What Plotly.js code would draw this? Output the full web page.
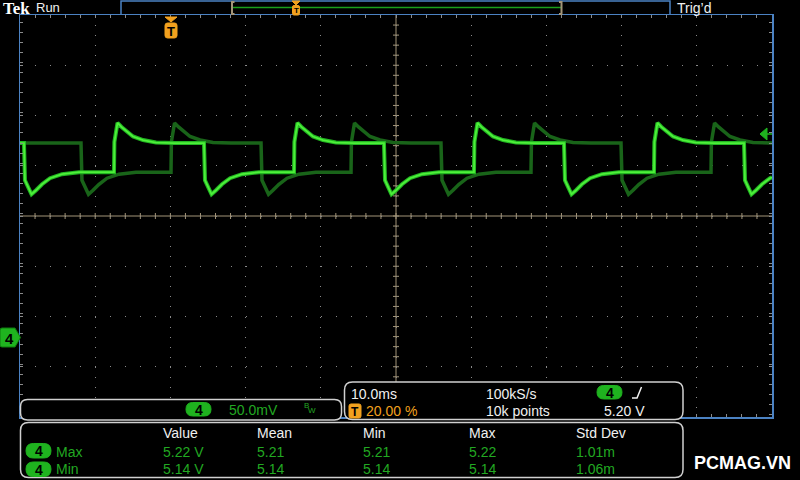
<!DOCTYPE html>
<html><head><meta charset="utf-8">
<script src="https://cdn.plot.ly/plotly-3.0.1.min.js"></script>
<style>html,body{margin:0;padding:0;background:#000;}#chart{width:800px;height:480px;}</style>
</head><body><div id="chart"></div>
<script>
// ---- data (time in ms, trigger at 0; voltage in V) ----
const timeBright = [-20.00, -19.47, -19.34, -18.47, -17.87, -17.07, -16.01, -14.41, -12.15, -7.50,
  -7.45, -7.03, -6.50, -5.84, -4.97, -3.64, -1.91, 0.48, 4.47,
  4.60, 5.47, 6.06, 6.86, 7.93, 9.52, 11.78, 16.44,
  16.49, 16.90, 17.43, 18.10, 18.96, 20.29, 22.02, 24.41, 28.40,
  28.54, 29.40, 30.00, 30.80, 31.86, 33.46, 35.72, 40.37,
  40.43, 40.84, 41.37, 42.03, 42.90, 44.23, 45.96, 48.35, 52.34,
  52.47, 53.34, 53.94, 54.73, 55.80, 57.39, 59.65, 64.31,
  64.36, 64.77, 65.30, 65.97, 66.84, 68.16, 69.89, 72.29, 76.28,
  76.41, 77.27, 77.87, 78.67, 79.73, 80.00];
const voltBright = [5.190, 5.190, 5.153, 5.139, 5.143, 5.149, 5.155, 5.159, 5.161, 5.161,
  5.191, 5.210, 5.206, 5.2015, 5.1965, 5.193, 5.1905, 5.190, 5.190,
  5.153, 5.139, 5.143, 5.149, 5.155, 5.159, 5.161, 5.161,
  5.191, 5.210, 5.206, 5.2015, 5.1965, 5.193, 5.1905, 5.190, 5.190,
  5.153, 5.139, 5.143, 5.149, 5.155, 5.159, 5.161, 5.161,
  5.191, 5.210, 5.206, 5.2015, 5.1965, 5.193, 5.1905, 5.190, 5.190,
  5.153, 5.139, 5.143, 5.149, 5.155, 5.159, 5.161, 5.161,
  5.191, 5.210, 5.206, 5.2015, 5.1965, 5.193, 5.1905, 5.190, 5.190,
  5.153, 5.139, 5.143, 5.149, 5.155, 5.156];
const timePersist = [-20.00, -11.89,
  -11.76, -10.89, -10.29, -9.49, -8.43, -6.83, -4.57, 0.08,
  0.13, 0.55, 1.08, 1.74, 2.61, 3.94, 5.66, 8.06, 12.05,
  12.18, 13.05, 13.64, 14.44, 15.51, 17.10, 19.36, 24.02,
  24.07, 24.48, 25.01, 25.68, 26.54, 27.87, 29.60, 31.99, 35.98,
  36.12, 36.98, 37.58, 38.38, 39.44, 41.04, 43.30, 47.95,
  48.01, 48.42, 48.95, 49.62, 50.48, 51.81, 53.54, 55.93, 59.92,
  60.06, 60.92, 61.52, 62.32, 63.38, 64.97, 67.23, 71.89,
  71.94, 72.36, 72.89, 73.55, 74.41, 75.74, 77.47, 79.87, 80.00];
const voltPersist = [5.190, 5.190,
  5.153, 5.139, 5.143, 5.149, 5.155, 5.159, 5.161, 5.161,
  5.191, 5.210, 5.206, 5.2015, 5.1965, 5.193, 5.1905, 5.190, 5.190,
  5.153, 5.139, 5.143, 5.149, 5.155, 5.159, 5.161, 5.161,
  5.191, 5.210, 5.206, 5.2015, 5.1965, 5.193, 5.1905, 5.190, 5.190,
  5.153, 5.139, 5.143, 5.149, 5.155, 5.159, 5.161, 5.161,
  5.191, 5.210, 5.206, 5.2015, 5.1965, 5.193, 5.1905, 5.190, 5.190,
  5.153, 5.139, 5.143, 5.149, 5.155, 5.159, 5.161, 5.161,
  5.191, 5.210, 5.206, 5.2015, 5.1965, 5.193, 5.1905, 5.190, 5.190];

const statHeaders = ["Value", "Mean", "Min", "Max", "Std Dev"];
const statRowNames = ["Max", "Min"];
const statMax = ["5.22 V", "5.21", "5.21", "5.22", "1.01m"];
const statMin = ["5.14 V", "5.14", "5.14", "5.14", "1.06m"];
const scaleText = "50.0mV";
const timebaseText = "10.0ms", sampleRateText = "100kS/s", recordText = "10k points";
const triggerPosText = "20.00 %", triggerLevelText = "5.20 V";

// ---- screen geometry ----
const X0 = -20, X1 = 80, VCEN = 5.1174, VDIV = 0.05;
const L = 20, R = 772, TOP = 15, BOT = 417;
const px = x => (x - L) / (R - L);
const py = y => (BOT - y) / (BOT - TOP);
const P = (x, y) => px(x).toFixed(5) + ',' + py(y).toFixed(5);

function rrect(x0, y0, x1, y1, r) {
  return 'M' + P(x0 + r, y0) + ' L' + P(x1 - r, y0) + ' Q' + P(x1, y0) + ' ' + P(x1, y0 + r) +
    ' L' + P(x1, y1 - r) + ' Q' + P(x1, y1) + ' ' + P(x1 - r, y1) +
    ' L' + P(x0 + r, y1) + ' Q' + P(x0, y1) + ' ' + P(x0, y1 - r) +
    ' L' + P(x0, y0 + r) + ' Q' + P(x0, y0) + ' ' + P(x0 + r, y0) + ' Z';
}
function poly(pts, close) {
  return pts.map((p, i) => (i ? 'L' : 'M') + P(p[0], p[1])).join(' ') + (close ? ' Z' : '');
}
const shapes = [], ann = [];
function pathShape(path, fill, line, lw) {
  shapes.push({type: 'path', xref: 'paper', yref: 'paper', layer: 'above', path: path,
    fillcolor: fill || 'rgba(0,0,0,0)', line: {color: line || 'rgba(0,0,0,0)', width: lw || 0}});
}
function txt(x, y, text, color, size, opts) {
  opts = opts || {};
  ann.push({xref: 'paper', yref: 'paper', x: px(x), y: py(y), text: text, showarrow: false,
    xanchor: opts.anchor || 'left', yanchor: 'middle', borderpad: 0,
    font: {family: opts.family || 'Liberation Sans, Arial, sans-serif', size: size, color: color,
      weight: opts.bold ? 'bold' : 'normal'}});
}
const GREEN = '#1fb31f', TGREEN = '#22a822', ORANGE = '#f2a11e', WHITE = '#f0f0f0', BOX = '#d0d0d0', BLUE = '#4b82c3', TAN = '#a39579';
function badge(x0, y0, x1, y1) {
  pathShape(rrect(x0, y0, x1, y1, (y1 - y0) / 2), GREEN, GREEN, 1);
  txt((x0 + x1) / 2, (y0 + y1) / 2 + 0.5, '4', '#000', 14, {anchor: 'center', bold: true});
}

// center cross-hair
shapes.push({type: 'line', xref: 'x', yref: 'paper', x0: 30, x1: 30, y0: 0, y1: 1, line: {color: TAN, width: 1}, layer: 'below'});
shapes.push({type: 'line', xref: 'paper', yref: 'y', x0: 0, x1: 1, y0: VCEN, y1: VCEN, line: {color: TAN, width: 1}, layer: 'below'});
for (let k = 1; k < 50; k++) {
  shapes.push({type: 'line', xref: 'x', yref: 'y', ysizemode: 'pixel', yanchor: VCEN, y0: -3, y1: 3,
    x0: X0 + 2 * k, x1: X0 + 2 * k, line: {color: TAN, width: 1}, layer: 'below'});
}
for (let k = 1; k < 40; k++) {
  const v = VCEN - 4 * VDIV + k * VDIV / 5;
  shapes.push({type: 'line', xref: 'x', yref: 'y', xsizemode: 'pixel', xanchor: 30, x0: -3, x1: 3,
    y0: v, y1: v, line: {color: TAN, width: 1}, layer: 'below'});
}

// top bar
txt(2, 8.5, 'Tek', '#ffffff', 17, {family: 'Liberation Serif, DejaVu Serif, serif', bold: true});
txt(35, 8, 'Run', WHITE, 13);
txt(676, 8, 'Trig\u2019d', WHITE, 14);
pathShape(poly([[121, 15], [121, 1], [670, 1], [670, 15]], false), null, BLUE, 1.5);
pathShape(poly([[233, 7.5], [561, 7.5]], false), null, '#1aa01a', 1.5);
pathShape(poly([[234.5, 2], [232, 2], [232, 14], [234.5, 14]], false), null, TAN, 2);
pathShape(poly([[559, 2], [561.5, 2], [561.5, 14], [559, 14]], false), null, TAN, 2);
pathShape(poly([[292, 1], [300, 1], [296, 5]], true), ORANGE, ORANGE, 1);
pathShape(rrect(292.5, 5.5, 299.5, 15, 1.5), ORANGE, ORANGE, 1);
txt(296, 10.5, 'T', '#000', 8, {anchor: 'center', bold: true});

// trigger position marker
pathShape(poly([[165, 17], [177, 17], [171, 22]], true), ORANGE, ORANGE, 1);
pathShape(rrect(165, 23, 177, 38, 2.5), ORANGE, ORANGE, 1);
txt(171, 31, 'T', '#000', 13, {anchor: 'center', bold: true});

// trigger level arrow (right) and channel marker (left)
pathShape(poly([[760, 134], [767, 128], [767, 140]], true), GREEN, GREEN, 1);
pathShape(poly([[767, 134], [772, 134]], false), null, GREEN, 1.5);
pathShape('M' + P(2, 328) + ' L' + P(15, 328) + ' L' + P(20.5, 337.5) + ' L' + P(15, 347) + ' L' + P(2, 347) +
  ' Q' + P(0, 347) + ' ' + P(0, 345) + ' L' + P(0, 330) + ' Q' + P(0, 328) + ' ' + P(2, 328) + ' Z', GREEN, '#0f7d0f', 1);
txt(9.5, 338, '4', '#000', 15, {anchor: 'center', bold: true});

// box 1: channel scale
pathShape(rrect(20.5, 399.5, 341.5, 420, 7), '#000', BOX, 1.5);
badge(186, 402.5, 211, 416);
txt(228, 409.5, scaleText, TGREEN, 14);
txt(303, 405, 'B', TGREEN, 8);
txt(307, 410.5, 'W', TGREEN, 8);

// box 2: horizontal / trigger
pathShape(rrect(344.5, 382, 683, 419.5, 8), '#000', BOX, 1.5);
txt(350, 393.5, timebaseText, WHITE, 14);
txt(485, 393.5, sampleRateText, WHITE, 14);
badge(597, 385.5, 622, 399);
pathShape(poly([[632, 398], [637, 398], [641.5, 387]], false), null, WHITE, 1.5);
pathShape(rrect(349, 404, 361, 418, 2), ORANGE, ORANGE, 1);
txt(355, 411.5, 'T', '#000', 12, {anchor: 'center', bold: true});
txt(365, 410.5, triggerPosText, ORANGE, 14);
txt(485, 410.5, recordText, WHITE, 14);
txt(603, 410.5, triggerLevelText, WHITE, 14);

// box 3: measurement statistics
pathShape(rrect(20.5, 422.5, 683, 477.5, 8), '#000', BOX, 1.5);
const colX = [162, 256, 362, 468, 575];
statHeaders.forEach((h, i) => txt(colX[i], 433, h, WHITE, 14));
badge(26, 443.5, 51, 458);
badge(26, 462, 51, 476.5);
txt(55, 451.5, statRowNames[0], TGREEN, 14);
txt(55, 469, statRowNames[1], TGREEN, 14);
statMax.forEach((s, i) => txt(colX[i], 451.5, s, TGREEN, 14));
statMin.forEach((s, i) => txt(colX[i], 469, s, TGREEN, 14));

txt(742, 463, 'PCMAG.VN', '#ffffff', 18, {anchor: 'center', bold: true});

const traces = [
  {x: timePersist, y: voltPersist, type: 'scatter', mode: 'lines', line: {color: '#196419', width: 3.5}, hoverinfo: 'skip'},
  {x: timeBright, y: voltBright, type: 'scatter', mode: 'lines', line: {color: '#22b522', width: 4}, hoverinfo: 'skip'},
  {x: timeBright, y: voltBright, type: 'scatter', mode: 'lines', line: {color: '#4ef03a', width: 1.8}, hoverinfo: 'skip'}
];

const axisCommon = {showticklabels: false, zeroline: false, showline: true, linecolor: BLUE, linewidth: 1.5,
  mirror: 'allticks', ticks: 'inside', ticklen: 3, tickcolor: '#8a8a8a', tickwidth: 1,
  showgrid: true, gridcolor: '#8a8a8a', gridwidth: 1, tickmode: 'linear', fixedrange: true};
const layout = {
  width: 800, height: 480, margin: {l: L, r: 800 - R, t: TOP, b: 480 - BOT, pad: 0},
  paper_bgcolor: '#000', plot_bgcolor: '#000', showlegend: false, hovermode: false,
  xaxis: Object.assign({}, axisCommon, {range: [X0, X1], tick0: X0, dtick: 10, griddash: '1px,9.05px',
    minor: {dtick: 2, ticks: 'inside', ticklen: 3, tickcolor: '#8a8a8a', showgrid: false}}),
  yaxis: Object.assign({}, axisCommon, {range: [VCEN - 4 * VDIV, VCEN + 4 * VDIV], tick0: VCEN, dtick: VDIV, griddash: '1px,14.04px',
    minor: {dtick: VDIV / 5, ticks: 'inside', ticklen: 3, tickcolor: '#8a8a8a', showgrid: false}}),
  shapes: shapes, annotations: ann
};
Plotly.newPlot('chart', traces, layout, {displayModeBar: false, staticPlot: true});
</script></body></html>
